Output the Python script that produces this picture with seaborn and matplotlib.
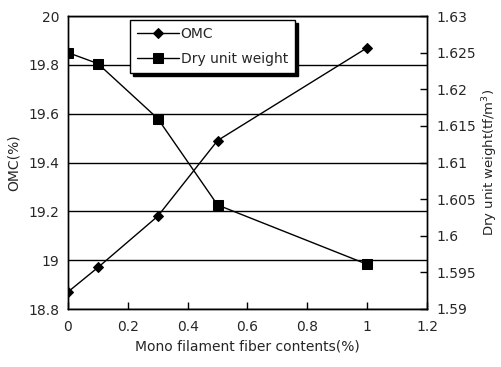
import matplotlib
matplotlib.use("Agg")
import matplotlib.pyplot as plt
import seaborn as sns
import pandas as pd

fiber = [0, 0.1, 0.3, 0.5, 1.0]
omc = [18.87, 18.97, 19.18, 19.49, 19.87]
dry_unit_weight = [1.625, 1.6235, 1.616, 1.6042, 1.5961]
left_ticks = [18.8, 19, 19.2, 19.4, 19.6, 19.8, 20]
left_labels = ["18.8", "19", "19.2", "19.4", "19.6", "19.8", "20"]
right_ticks = [1.59, 1.595, 1.6, 1.605, 1.61, 1.615, 1.62, 1.625, 1.63]
right_labels = ["1.59", "1.595", "1.6", "1.605", "1.61", "1.615", "1.62", "1.625", "1.63"]
x_ticks = [0, 0.2, 0.4, 0.6, 0.8, 1.0, 1.2]
x_labels = ["0", "0.2", "0.4", "0.6", "0.8", "1", "1.2"]

sns.set_style("white")
plt.rcParams["font.family"] = ["DejaVu Sans"]
plt.rcParams["font.size"] = 10

df = pd.DataFrame({"fiber": fiber, "omc": omc, "dry": dry_unit_weight})

fig = plt.figure(figsize=(5.02, 3.67), dpi=100)
ax = fig.add_axes([68/502, 1-309/367, (427-68)/502, (309-16)/367])
ax2 = ax.twinx()

sns.lineplot(data=df, x="fiber", y="omc", ax=ax, color="black", lw=1,
             marker="D", markersize=5, markeredgecolor="black", label="OMC", legend=False)
sns.lineplot(data=df, x="fiber", y="dry", ax=ax2, color="black", lw=1,
             marker="s", markersize=7, markeredgecolor="black", label="Dry unit weight", legend=False)

ax.set_xlim(0, 1.2)
ax.set_ylim(18.8, 20)
ax2.set_ylim(1.59, 1.63)
ax.set_xticks(x_ticks)
ax.set_xticklabels(x_labels)
ax.set_yticks(left_ticks)
ax.set_yticklabels(left_labels)
ax2.set_yticks(right_ticks)
ax2.set_yticklabels(right_labels)

for a in (ax, ax2):
    for s in a.spines.values():
        s.set_color("black")
        s.set_linewidth(1)
ax.grid(axis="y", color="black", lw=1)
ax.grid(axis="x", visible=False)
ax2.grid(False)
ax.tick_params(axis="x", direction="in", length=5, width=1, color="black", pad=8, labelsize=10, bottom=True)
ax.tick_params(axis="y", length=0, pad=6, labelsize=10)
ax2.tick_params(axis="y", direction="in", length=5, width=1, color="black", pad=7, labelsize=10, right=True)

ax.set_xlabel("Mono filament fiber contents(%)", fontsize=10, labelpad=4)
ax.set_ylabel("OMC(%)", fontsize=10, labelpad=6)
ax2.set_ylabel("Dry unit weight(tf/m$^3$)", fontsize=9.5, labelpad=3)

h1, l1 = ax.get_legend_handles_labels()
h2, l2 = ax2.get_legend_handles_labels()
leg = ax2.legend(h1 + h2, l1 + l2, loc="upper left",
                 bbox_to_anchor=(130/502, 1-20/367), bbox_transform=fig.transFigure,
                 frameon=True, fancybox=False, shadow={"color": "black", "alpha": 1},
                 handlelength=3.0, borderpad=0.5, labelspacing=0.8, handletextpad=0.15,
                 fontsize=10, borderaxespad=0)
leg.get_frame().set_edgecolor("black")
leg.get_frame().set_linewidth(1)
leg.get_frame().set_alpha(1)

fig.savefig("out.png", dpi=100)
